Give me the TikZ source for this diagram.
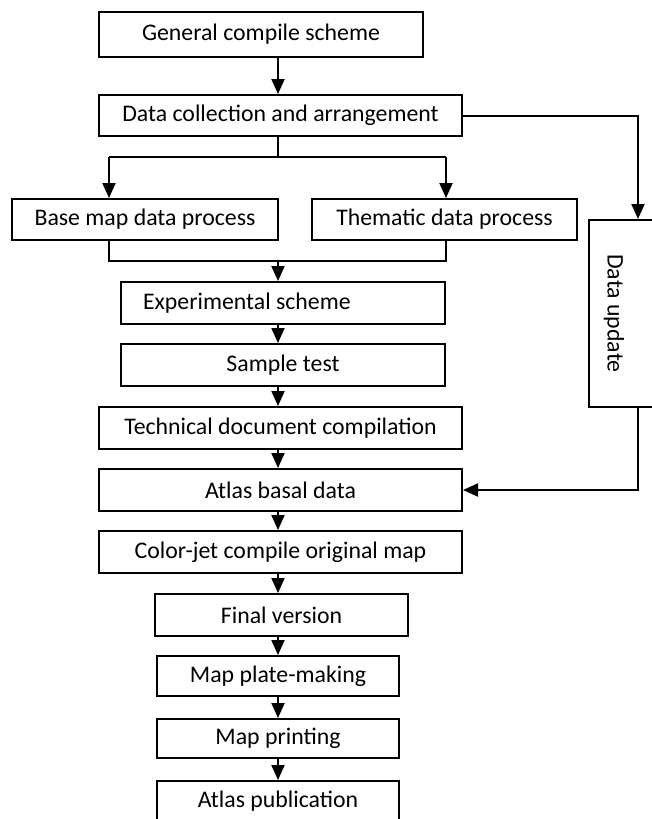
\documentclass[tikz,border=0pt]{standalone}
\usepackage{fontspec}
\setmainfont{Carlito}
\usetikzlibrary{arrows.meta}

\tikzset{
    x=1pt, y=-1pt, >={Triangle[length=15pt,width=13pt]},
    every node/.style={font=\fontsize{23.8}{28}\selectfont, inner sep=0pt},
    box/.style={draw=black, line width=2pt, rectangle, minimum height=42pt},
    link/.style={draw=black, line width=2pt},
    arr/.style={link, ->},
}

\begin{document}
\begin{tikzpicture}
    \useasboundingbox (0,0) rectangle (651,819);
    % main column
    \node [box, minimum width=324pt, minimum height=45pt] (gen-scheme) at (261,34.5) {General compile scheme};
    \node [box, minimum width=363pt, minimum height=41pt] (data-coll) at (280.5,115.5) {Data collection and arrangement};
    \node [box, minimum width=266pt, minimum height=41pt] (base-map) at (145,219.5) {Base map data process};
    \node [box, minimum width=265pt, minimum height=41pt] (them-data) at (444.5,219.5) {Thematic data process};
    \node [box, text width=280pt, inner xsep=22pt, align=flush left] (exp-scheme) at (283,303) {Experimental scheme};
    \node [box, minimum width=324pt] (sample-test) at (283,365) {Sample test};
    \node [box, minimum width=363pt] (tech-doc) at (280.5,428) {Technical document compilation};
    \node [box, minimum width=363pt] (atlas-data) at (280.5,490) {Atlas basal data};
    \node [box, minimum width=363pt] (color-jet) at (280.5,552) {Color-jet compile original map};
    \node [box, minimum width=253pt] (final-ver) at (281.5,615) {Final version};
    \node [box, minimum width=242pt, minimum height=40pt] (plate-making) at (278,676) {Map plate-making};
    \node [box, minimum width=242pt, minimum height=39pt] (map-print) at (278,738.5) {Map printing};
    \node [box, minimum width=242pt, minimum height=40pt] (atlas-pub) at (278,801) {Atlas publication};
    % side branch
    \node [box, minimum width=71pt, minimum height=187pt] (data-upd) at (624.5,313.5) {};
    \node [rotate=-90] (data-upd-text) at (614,313.5) {Data update};

    \coordinate (spine) at (278,0);
    \coordinate (split-l) at (109,157);
    \coordinate (split-r) at (446,157);
    \coordinate (merge-l) at (109,261);
    \coordinate (merge-r) at (446,261);
    \coordinate (upd-line) at (638,0);

    \draw [arr] (gen-scheme.south -| spine) -- (data-coll.north -| spine);
    \draw [link] (data-coll.south -| spine) -- (split-l -| spine);
    \draw [link] (split-l) -- (split-r);
    \draw [arr] (split-l) -- (base-map.north -| split-l);
    \draw [arr] (split-r) -- (them-data.north -| split-r);
    \draw [link] (base-map.south -| merge-l) -- (merge-l) -- (merge-r) -- (them-data.south -| merge-r);
    \draw [arr] (merge-l -| spine) -- (exp-scheme.north -| spine);
    \draw [arr] (exp-scheme.south -| spine) -- (sample-test.north -| spine);
    \draw [arr] (sample-test.south -| spine) -- (tech-doc.north -| spine);
    \draw [arr] (tech-doc.south -| spine) -- (atlas-data.north -| spine);
    \draw [arr] (atlas-data.south -| spine) -- (color-jet.north -| spine);
    \draw [arr] (color-jet.south -| spine) -- (final-ver.north -| spine);
    \draw [arr] (final-ver.south -| spine) -- (plate-making.north -| spine);
    \draw [arr] (plate-making.south -| spine) -- (map-print.north -| spine);
    \draw [arr] (map-print.south -| spine) -- (atlas-pub.north -| spine);
    \draw [arr] (data-coll.east) -| (data-upd.north -| upd-line);
    \draw [arr] (data-upd.south -| upd-line) |- (atlas-data.east);
\end{tikzpicture}
\end{document}
